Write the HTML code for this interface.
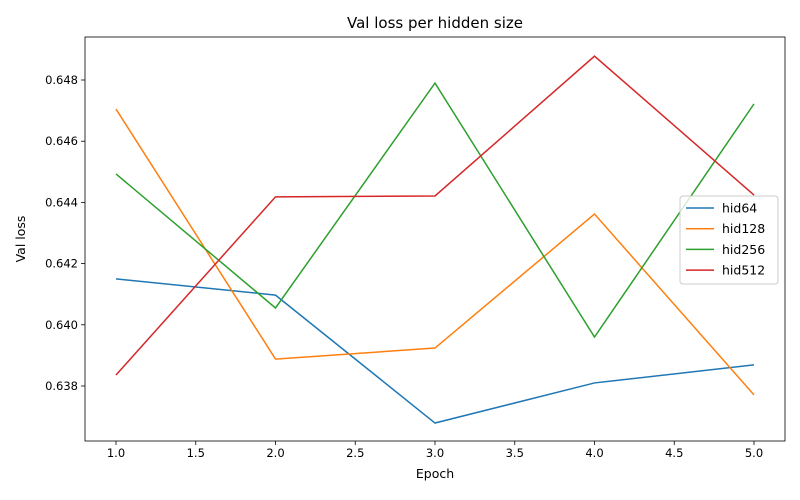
<!DOCTYPE html>
<html><head><meta charset="utf-8"><style>
body{margin:0;background:#fff;}
svg{display:block;font-family:"DejaVu Sans","Liberation Sans",sans-serif;}
</style></head><body>
<svg id="chart" width="800" height="500"></svg>
<script>
const epochs=[1,2,3,4,5];
const seriesNames=["hid64","hid128","hid256","hid512"];
const hid64=[0.6415,0.64097,0.63679,0.6381,0.63869];
const hid128=[0.64705,0.63888,0.63924,0.64362,0.63771];
const hid256=[0.64493,0.64055,0.6479,0.6396,0.64722];
const hid512=[0.63836,0.64418,0.64421,0.64878,0.64424];
const xTicks=[1.0,1.5,2.0,2.5,3.0,3.5,4.0,4.5,5.0];
const yTicks=[0.638,0.640,0.642,0.644,0.646,0.648];
const colors=["#1f77b4","#ff7f0e","#2ca02c","#d62728"];
const allSeries=[hid64,hid128,hid256,hid512];
const NS="http://www.w3.org/2000/svg";
const svg=document.getElementById('chart');
const L=85,R=785,T=37,B=441;
const xs=v=>116+(v-1)*(754-116)/4;
const ys=v=>386-(v-0.638)*(386-80)/0.010;
function mk(tag,attrs,parent){const e=document.createElementNS(NS,tag);for(const k in attrs)e.setAttribute(k,attrs[k]);(parent||svg).appendChild(e);return e;}
const title=mk('text',{x:435,y:28,'text-anchor':'middle','font-size':15,fill:'#000'});title.textContent='Val loss per hidden size';


xTicks.forEach(t=>{const g=mk('g',{});


mk('line',{x1:xs(t),x2:xs(t),y1:B,y2:B+4,stroke:'#000','stroke-width':0.8},g);
const tx=mk('text',{x:xs(t),y:B+16,'text-anchor':'middle','font-size':11.5},g);tx.textContent=t.toFixed(1);});
yTicks.forEach(t=>{const g=mk('g',{});


mk('line',{x1:L-4,x2:L,y1:ys(t),y2:ys(t),stroke:'#000','stroke-width':0.8},g);
const tx=mk('text',{x:L-7,y:ys(t)+4,'text-anchor':'end','font-size':11.5},g);tx.textContent=t.toFixed(3);});
const xl=mk('text',{x:435,y:478,'text-anchor':'middle','font-size':12.5});xl.textContent='Epoch';


const yl=mk('text',{x:25,y:239,'text-anchor':'middle','font-size':12.5,transform:'rotate(-90 25 239)'});yl.textContent='Val loss';


allSeries.forEach((s,i)=>{const p=mk('polyline',{points:s.map((v,j)=>xs(epochs[j])+','+ys(v)).join(' '),fill:'none',stroke:colors[i],'stroke-width':1.5});

});
const frame=mk('rect',{x:L,y:T,width:R-L,height:B-T,fill:'none',stroke:'#000','stroke-width':0.8});


const lg=mk('g',{});


mk('rect',{x:680,y:196,width:98,height:88,rx:3,fill:'#fff','fill-opacity':0.8,stroke:'#ccc'},lg);
seriesNames.forEach((n,i)=>{const y=208+i*20.7;const g=mk('g',{},lg);


mk('line',{x1:686,x2:714,y1:y,y2:y,stroke:colors[i],'stroke-width':1.5},g);
const t=mk('text',{x:722,y:y+4.5,'font-size':12.5},g);t.textContent=n;});
</script>
</body></html>
